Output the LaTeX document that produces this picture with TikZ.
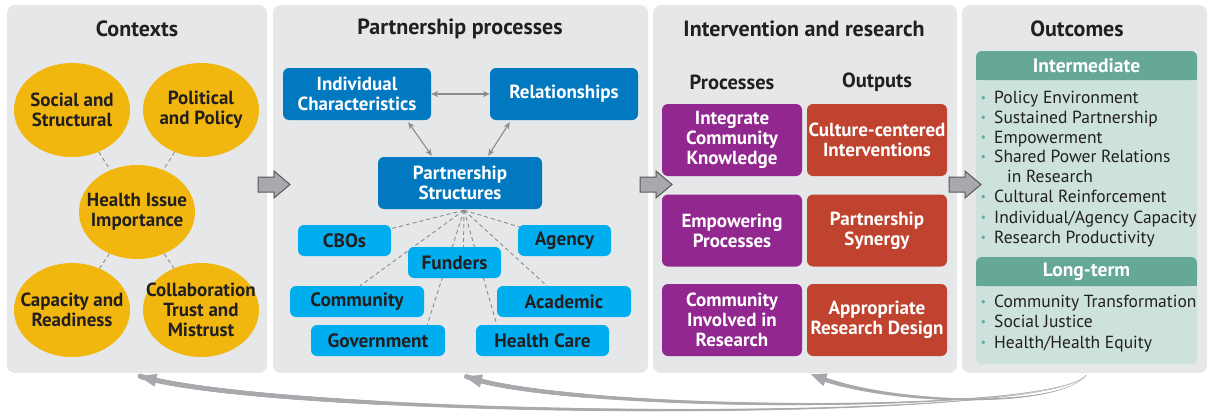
\documentclass[tikz,border=0pt]{standalone}
\usepackage{fontspec}
\setmainfont{PT Sans}
\usetikzlibrary{calc,arrows.meta,bending,shapes.geometric,decorations.markings}
\definecolor{panelgray}{HTML}{E6E7E8}
\definecolor{txt}{HTML}{231F20}
\definecolor{ctxy}{HTML}{F1B70F}
\definecolor{dblue}{HTML}{0079C1}
\definecolor{lblue}{HTML}{00AEEF}
\definecolor{purp}{HTML}{92278F}
\definecolor{redbox}{HTML}{C0432F}
\definecolor{hteal}{HTML}{66A898}
\definecolor{lteal}{HTML}{CDE2DC}
\definecolor{agray}{HTML}{A7A9AC}
\definecolor{adark}{HTML}{58595B}
\definecolor{lgray}{HTML}{8A8C8E}
\pgfdeclarelayer{panels}
\pgfdeclarelayer{links}
\pgfsetlayers{panels,links,main}
\tikzset{
  panel/.style={fill=panelgray, rounded corners=8pt, inner sep=0pt, minimum height=368pt},
  title/.style={font=\bfseries\fontsize{22}{25}\selectfont, text=txt, inner sep=0pt},
  subtitle/.style={font=\bfseries\fontsize{20.5}{24}\selectfont, text=txt, inner sep=0pt},
  ell/.style={ellipse, fill=ctxy, minimum width=116pt, minimum height=94pt, inner xsep=-20pt, inner ysep=0pt, align=center, font=\bfseries\fontsize{19}{20}\selectfont, text=txt},
  dbox/.style={fill=dblue, rounded corners=6pt, text=white, align=center, font=\bfseries\fontsize{19}{20.5}\selectfont, minimum height=52pt, inner sep=0pt},
  lbox/.style={fill=lblue, rounded corners=6pt, text=txt, font=\bfseries\fontsize{19.3}{20}\selectfont, minimum height=31pt, inner sep=0pt},
  pbox/.style={fill=purp, rounded corners=6pt, text=white, align=center, font=\bfseries\fontsize{19}{20}\selectfont, minimum width=140pt, minimum height=72pt, inner sep=0pt},
  rbox/.style={pbox, fill=redbox},
  hdr/.style={fill=hteal, rounded corners=6pt, minimum width=221pt, minimum height=29pt, inner sep=0pt},
  hdrtext/.style={text=white, font=\bfseries\fontsize{19.5}{22}\selectfont, inner sep=0pt},
  item/.style={anchor=base west, inner sep=0pt, text=txt, font=\fontsize{17.5}{20}\selectfont},
  dlink/.style={draw=lgray, line width=0.9pt, dash pattern=on 4pt off 3pt},
  darrow/.style={draw=lgray, line width=1.1pt, {Stealth[length=7pt,width=6pt]}-{Stealth[length=7pt,width=6pt]}},
  blockarrow/.pic={\draw[fill=agray, draw=adark, line width=1pt, line join=miter]
     (-16,-7.5) -- (0,-7.5) -- (0,-13.5) -- (16,0) -- (0,13.5) -- (0,7.5) -- (-16,7.5) -- cycle;},
  taper/.style={decorate, decoration={markings,
     mark=between positions 0 and -13pt step 0.7pt with {%
       \pgfmathsetmacro\rr{0.25+#1*\pgfkeysvalueof{/pgf/decoration/mark info/distance from start}/\pgfdecoratedpathlength}%
       \fill[agray] (0pt,0pt) circle (\rr pt);}}},
  fhead/.style={draw=agray, line width=0.01pt, -{Triangle[length=15pt,width=13pt,bend,fill=agray]}},
}
\begin{document}
\begin{tikzpicture}[x=1pt,y=-1pt]
\useasboundingbox (0,0) rectangle (1209,415);
\begin{pgfonlayer}{panels}
\node[panel, minimum width=260pt] (p1) at (137,189) {};
\node[panel, minimum width=375pt] (p2) at (460.5,189) {};
\node[panel, minimum width=304pt] (p3) at (805,189) {};
\node[panel, minimum width=245pt] (p4) at (1084.5,189) {};
\end{pgfonlayer}
% titles
\node[title] (t1) at (137,29) {Contexts};
\node[title] (t2) at (460,29) {Partnership processes};
\node[title] (t3) at (804,29) {Intervention and research};
\node[title] (t4) at (1077,29) {Outcomes};
% contexts
\node[ell] (soc) at (72,110) {Social and\\Structural};
\node[ell] (pol) at (201,110) {Political\\and Policy};
\node[ell] (hea) at (137,212) {Health Issue\\Importance};
\node[ell] (cap) at (72,310) {Capacity and\\Readiness};
\node[ell] (col) at (201,310) {Collaboration\\Trust and\\Mistrust};
\draw[dlink] (soc) -- (hea);
\draw[dlink] (pol) -- (hea);
\draw[dlink] (hea) -- (cap);
\draw[dlink] (hea) -- (col);
% partnership processes
\node[dbox, minimum width=148pt] (ind) at (357,94) {Individual\\Characteristics};
\node[dbox, minimum width=148pt] (rel) at (564,94) {Relationships};
\node[dbox, minimum width=164pt] (ps) at (460,183) {Partnership\\Structures};
\node[lbox, minimum width=93pt] (cbo) at (344.5,240.5) {CBOs};
\node[lbox, minimum width=93pt] (agy) at (564.5,240.5) {Agency};
\node[lbox, minimum width=93pt] (fun) at (454.5,262.5) {Funders};
\node[lbox, minimum width=134pt] (com) at (357,301.5) {Community};
\node[lbox, minimum width=134pt] (aca) at (564,301.5) {Academic};
\node[lbox, minimum width=134pt] (gov) at (378,340.5) {Government};
\node[lbox, minimum width=133pt] (hc) at (542.5,340.5) {Health Care};
\draw[darrow] (ind) -- (rel);
\draw[darrow] ($(ind.south east)+(-23,2)$) -- ($(ps.north west)+(54,-1)$);
\draw[darrow] ($(rel.south west)+(20,2)$) -- ($(ps.north east)+(-54,-1)$);
\begin{pgfonlayer}{links}
\coordinate (fan) at ($(ps.south)+(4,1)$);
\draw[dlink] (fan) -- (cbo.center);
\draw[dlink] (fan) -- (agy.center);
\draw[dlink] (fan) -- ($(fun.north)+(9,0)$);
\draw[dlink] (fan) -- ($(com.north)+(3,0)$);
\draw[dlink] (fan) -- (aca.center);
\draw[dlink] (fan) -- ($(gov.north east)+(-18,0)$);
\draw[dlink] (fan) -- ($(hc.north west)+(21,0)$);
\end{pgfonlayer}
% intervention and research
\node[subtitle] (prc) at (732,82) {Processes};
\node[subtitle] (out) at (877,82) {Outputs};
\node[pbox] (ick) at (732,140) {Integrate\\Community\\Knowledge};
\node[pbox] (emp) at (732,230.5) {Empowering\\Processes};
\node[pbox] (cir) at (732,320) {Community\\Involved in\\Research};
\node[rbox] (cci) at (877,140) {Culture-centered\\Interventions};
\node[rbox] (psy) at (877,230.5) {Partnership\\Synergy};
\node[rbox] (ard) at (877,320) {Appropriate\\Research Design};
% outcomes
\node[fill=lteal, rounded corners=6pt, minimum width=221pt, minimum height=313pt, inner sep=0pt] (obox) at (1086.5,207.5) {};
\node[hdr] (int) at (1086.5,65.5) {};
\fill[hteal] (int.west) rectangle (int.south east);
\node[hdrtext] (intt) at (int.center) {Intermediate};
\node[hdr] (lt) at (1086.5,271.5) {};
\fill[hteal] (lt.west) rectangle (lt.south east);
\node[hdrtext] (ltt) at (lt.center) {Long-term};
\node[item] (i1) at (994,103.7) {Policy Environment};
\node[item] (i2) at (994,123.3) {Sustained Partnership};
\node[item] (i3) at (994,143) {Empowerment};
\node[item] (i4) at (994,162.7) {Shared Power Relations};
\node[item] (i4b) at (1007,182.7) {in Research};
\node[item] (i5) at (994,202.7) {Cultural Reinforcement};
\node[item] (i6) at (994,223.3) {Individual/Agency Capacity};
\node[item] (i7) at (994,243.3) {Research Productivity};
\node[item] (l1) at (994,307.7) {Community Transformation};
\node[item] (l2) at (994,327.7) {Social Justice};
\node[item] (l3) at (994,348.3) {Health/Health Equity};
\foreach \yy in {97.7,117.3,137,156.7,196.7,217.3,237.3,301.7,321.7,342.3}
  \fill[hteal] (983.3,\yy) circle (1.9pt);
% block arrows
\pic at (274,184.5) {blockarrow};
\pic at (656,184.5) {blockarrow};
\pic at (965,184.5) {blockarrow};
% feedback arrows
\coordinate (fb) at ($(p4.south)+(1.5,2)$);
\coordinate (e1) at ($(p1.south)+(3,3)$);
\coordinate (e2) at ($(p2.south)+(5,3)$);
\coordinate (e3) at ($(p3.south)+(6,1)$);
\path[taper=2.4] (fb) .. controls (1050,425) and (280,418) .. (e1);
\draw[fhead] (fb) .. controls (1050,425) and (280,418) .. (e1);
\path[taper=2.2] (fb) .. controls (1050,415) and (560,412) .. (e2);
\draw[fhead] (fb) .. controls (1050,415) and (560,412) .. (e2);
\path[taper=2.0] (fb) .. controls (1060,410) and (880,405) .. (e3);
\draw[fhead] (fb) .. controls (1060,410) and (880,405) .. (e3);
\end{tikzpicture}
\end{document}
